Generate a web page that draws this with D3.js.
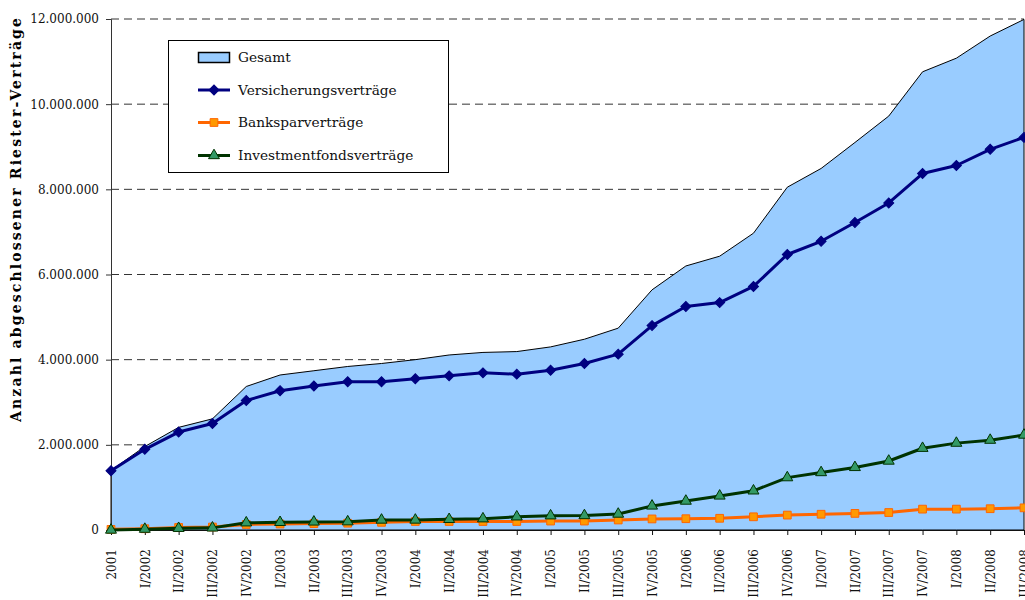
<!DOCTYPE html>
<html>
<head>
<meta charset="utf-8">
<script src="https://cdn.jsdelivr.net/npm/d3@7"></script>
<style>
	body { margin: 0; background: #fff; }
	svg text { font-family: "DejaVu Serif", serif; }
</style>
</head>
<body>
<div id="chart"></div>
<script>
// Quarters (x axis categories)
const quarters = ["2001", "I/2002", "II/2002", "III/2002", "IV/2002",
	"I/2003", "II/2003", "III/2003", "IV/2003",
	"I/2004", "II/2004", "III/2004", "IV/2004",
	"I/2005", "II/2005", "III/2005", "IV/2005",
	"I/2006", "II/2006", "III/2006", "IV/2006",
	"I/2007", "II/2007", "III/2007", "IV/2007",
	"I/2008", "II/2008", "III/2008"];

// Values (number of contracts)
const gesamt = [1400000, 1960000, 2410000, 2610000, 3370000,
	3640000, 3740000, 3840000, 3910000,
	4000000, 4110000, 4170000, 4190000,
	4300000, 4480000, 4740000, 5640000,
	6200000, 6430000, 6970000, 8050000,
	8490000, 9100000, 9720000, 10760000,
	11080000, 11600000, 11990000];

const versicherung = [1390000, 1895000, 2300000, 2500000, 3040000,
	3270000, 3380000, 3480000, 3480000,
	3550000, 3620000, 3690000, 3660000,
	3750000, 3910000, 4130000, 4800000,
	5250000, 5340000, 5720000, 6470000,
	6780000, 7220000, 7680000, 8370000,
	8560000, 8940000, 9220000];

const bankspar = [15000, 30000, 60000, 70000, 130000,
	140000, 150000, 160000, 180000,
	200000, 200000, 200000, 200000,
	210000, 210000, 235000, 260000,
	265000, 275000, 310000, 350000,
	370000, 390000, 410000, 490000,
	490000, 500000, 520000];

const investment = [0, 20000, 40000, 50000, 170000,
	180000, 190000, 195000, 235000,
	235000, 250000, 265000, 310000,
	335000, 340000, 375000, 565000,
	680000, 800000, 920000, 1230000,
	1350000, 1470000, 1620000, 1920000,
	2040000, 2110000, 2230000];

const yTicks = [0, 2000000, 4000000, 6000000, 8000000, 10000000, 12000000];

const width = 1025, height = 600;
const plotLeft = 111, plotRight = 1024, plotTop = 19, plotBottom = 530;
const serif = "'DejaVu Serif', serif";

const de = d3.formatLocale({ decimal: ",", thousands: ".", grouping: [3], currency: ["", " €"] });
const fmt = de.format(",d");

const svg = d3.select("#chart").append("svg")
	.attr("width", width)
	.attr("height", height)
	.style("display", "block");

const x = d3.scalePoint().domain(quarters).range([plotLeft, plotRight]);
const y = d3.scaleLinear().domain([0, 12000000]).range([plotBottom, plotTop]);

// dashed grid lines (behind the area)
svg.append("g")
	.selectAll("line")
	.data(yTicks.filter(d => d > 0))
	.enter().append("line")
	.attr("x1", plotLeft).attr("x2", plotRight)
	.attr("y1", d => y(d)).attr("y2", d => y(d))
	.attr("stroke", "#333")
	.attr("stroke-width", 1)
	.attr("stroke-dasharray", "8,5");

// Gesamt area
const area = d3.area()
	.x((d, i) => x(quarters[i]))
	.y0(y(0))
	.y1(d => y(d));

svg.append("path")
	.datum(gesamt)
	.attr("d", area)
	.attr("fill", "#99ccff")
	.attr("stroke", "#000")
	.attr("stroke-width", 1);

// axes
const yAxis = svg.append("g")
	.attr("transform", `translate(${plotLeft},0)`)
	.call(d3.axisLeft(y).tickValues(yTicks).tickFormat(fmt).tickSize(5).tickPadding(7))
	.attr("font-family", serif)
	.attr("font-size", 12);
yAxis.select(".domain").attr("stroke", "#333");
yAxis.selectAll(".tick line").attr("stroke", "#333");
yAxis.selectAll("text").attr("fill", "#111");

const xAxis = svg.append("g")
	.attr("transform", `translate(0,${plotBottom})`)
	.call(d3.axisBottom(x).tickSize(5).tickSizeOuter(0))
	.attr("font-family", serif)
	.attr("font-size", 12);
xAxis.select(".domain").attr("stroke", "#111");
xAxis.selectAll(".tick line").attr("stroke", "#111");
xAxis.selectAll("text")
	.attr("fill", "#111")
	.attr("transform", "rotate(-90)")
	.attr("x", -19)
	.attr("y", 0)
	.attr("dy", "0.35em")
	.style("text-anchor", "end");

// y axis title
svg.append("text")
	.attr("transform", "translate(21,220) rotate(-90)")
	.attr("text-anchor", "middle")
	.attr("font-family", serif)
	.attr("font-size", 14)
	.attr("font-weight", "bold")
	.attr("textLength", 404)
	.attr("lengthAdjust", "spacing")
	.text("Anzahl abgeschlossener Riester-Verträge");

// series lines + markers
const line = d3.line().x((d, i) => x(quarters[i])).y(d => y(d));

// diamond = square turned by 45 degrees (rotation added in drawSeries)
const diamond = d3.symbol().type(d3.symbolSquare).size(50);
const square = d3.symbol().type(d3.symbolSquare).size(60);
const triangle = d3.symbol().type(d3.symbolTriangle).size(52);

function drawSeries(values, color, sym, fill, markerStroke, rot)
{
	svg.append("path")
		.datum(values)
		.attr("d", line)
		.attr("fill", "none")
		.attr("stroke", color)
		.attr("stroke-width", 3)
		.attr("stroke-linejoin", "round");
	svg.append("g").selectAll("path")
		.data(values)
		.enter().append("path")
		.attr("transform", (d, i) => `translate(${x(quarters[i])},${y(d)}) rotate(${rot})`)
		.attr("d", sym)
		.attr("fill", fill)
		.attr("stroke", markerStroke)
		.attr("stroke-width", 1);
}

drawSeries(versicherung, "#000080", diamond, "#000080", "#000080", 45);
drawSeries(bankspar, "#ff6600", square, "#ff9900", "#ff6600", 0);
drawSeries(investment, "#003300", triangle, "#339966", "#003300", 0);

// legend
const legend = svg.append("g");
legend.append("rect")
	.attr("x", 168.5).attr("y", 40.5)
	.attr("width", 280).attr("height", 132)
	.attr("fill", "#fff")
	.attr("stroke", "#000")
	.attr("stroke-width", 1);

const legendItems = [
	{ label: "Gesamt", type: "area" },
	{ label: "Versicherungsverträge", color: "#000080", sym: diamond, fill: "#000080", ms: "#000080", rot: 45 },
	{ label: "Banksparverträge", color: "#ff6600", sym: square, fill: "#ff9900", ms: "#ff6600", rot: 0 },
	{ label: "Investmentfondsverträge", color: "#003300", sym: triangle, fill: "#339966", ms: "#003300", rot: 0 }
];
const rowY = [57.5, 90, 122.5, 155.5];

legendItems.forEach((d, i) =>
{
	const g = legend.append("g").attr("transform", `translate(0,${rowY[i]})`);
	if (d.type === "area")
	{
		g.append("rect")
			.attr("x", 198.5).attr("y", -5)
			.attr("width", 31).attr("height", 10)
			.attr("fill", "#99ccff")
			.attr("stroke", "#000")
			.attr("stroke-width", 1.5);
	}
	else
	{
		g.append("line")
			.attr("x1", 198).attr("x2", 230)
			.attr("stroke", d.color).attr("stroke-width", 3);
		g.append("path")
			.attr("transform", `translate(214,0) rotate(${d.rot})`)
			.attr("d", d.sym)
			.attr("fill", d.fill)
			.attr("stroke", d.ms)
			.attr("stroke-width", 1);
	}
	g.append("text")
		.attr("x", 238)
		.attr("dy", "0.35em")
		.attr("font-family", serif)
		.attr("font-size", 13.7)
		.attr("fill", "#111")
		.text(d.label);
});
</script>
</body>
</html>
